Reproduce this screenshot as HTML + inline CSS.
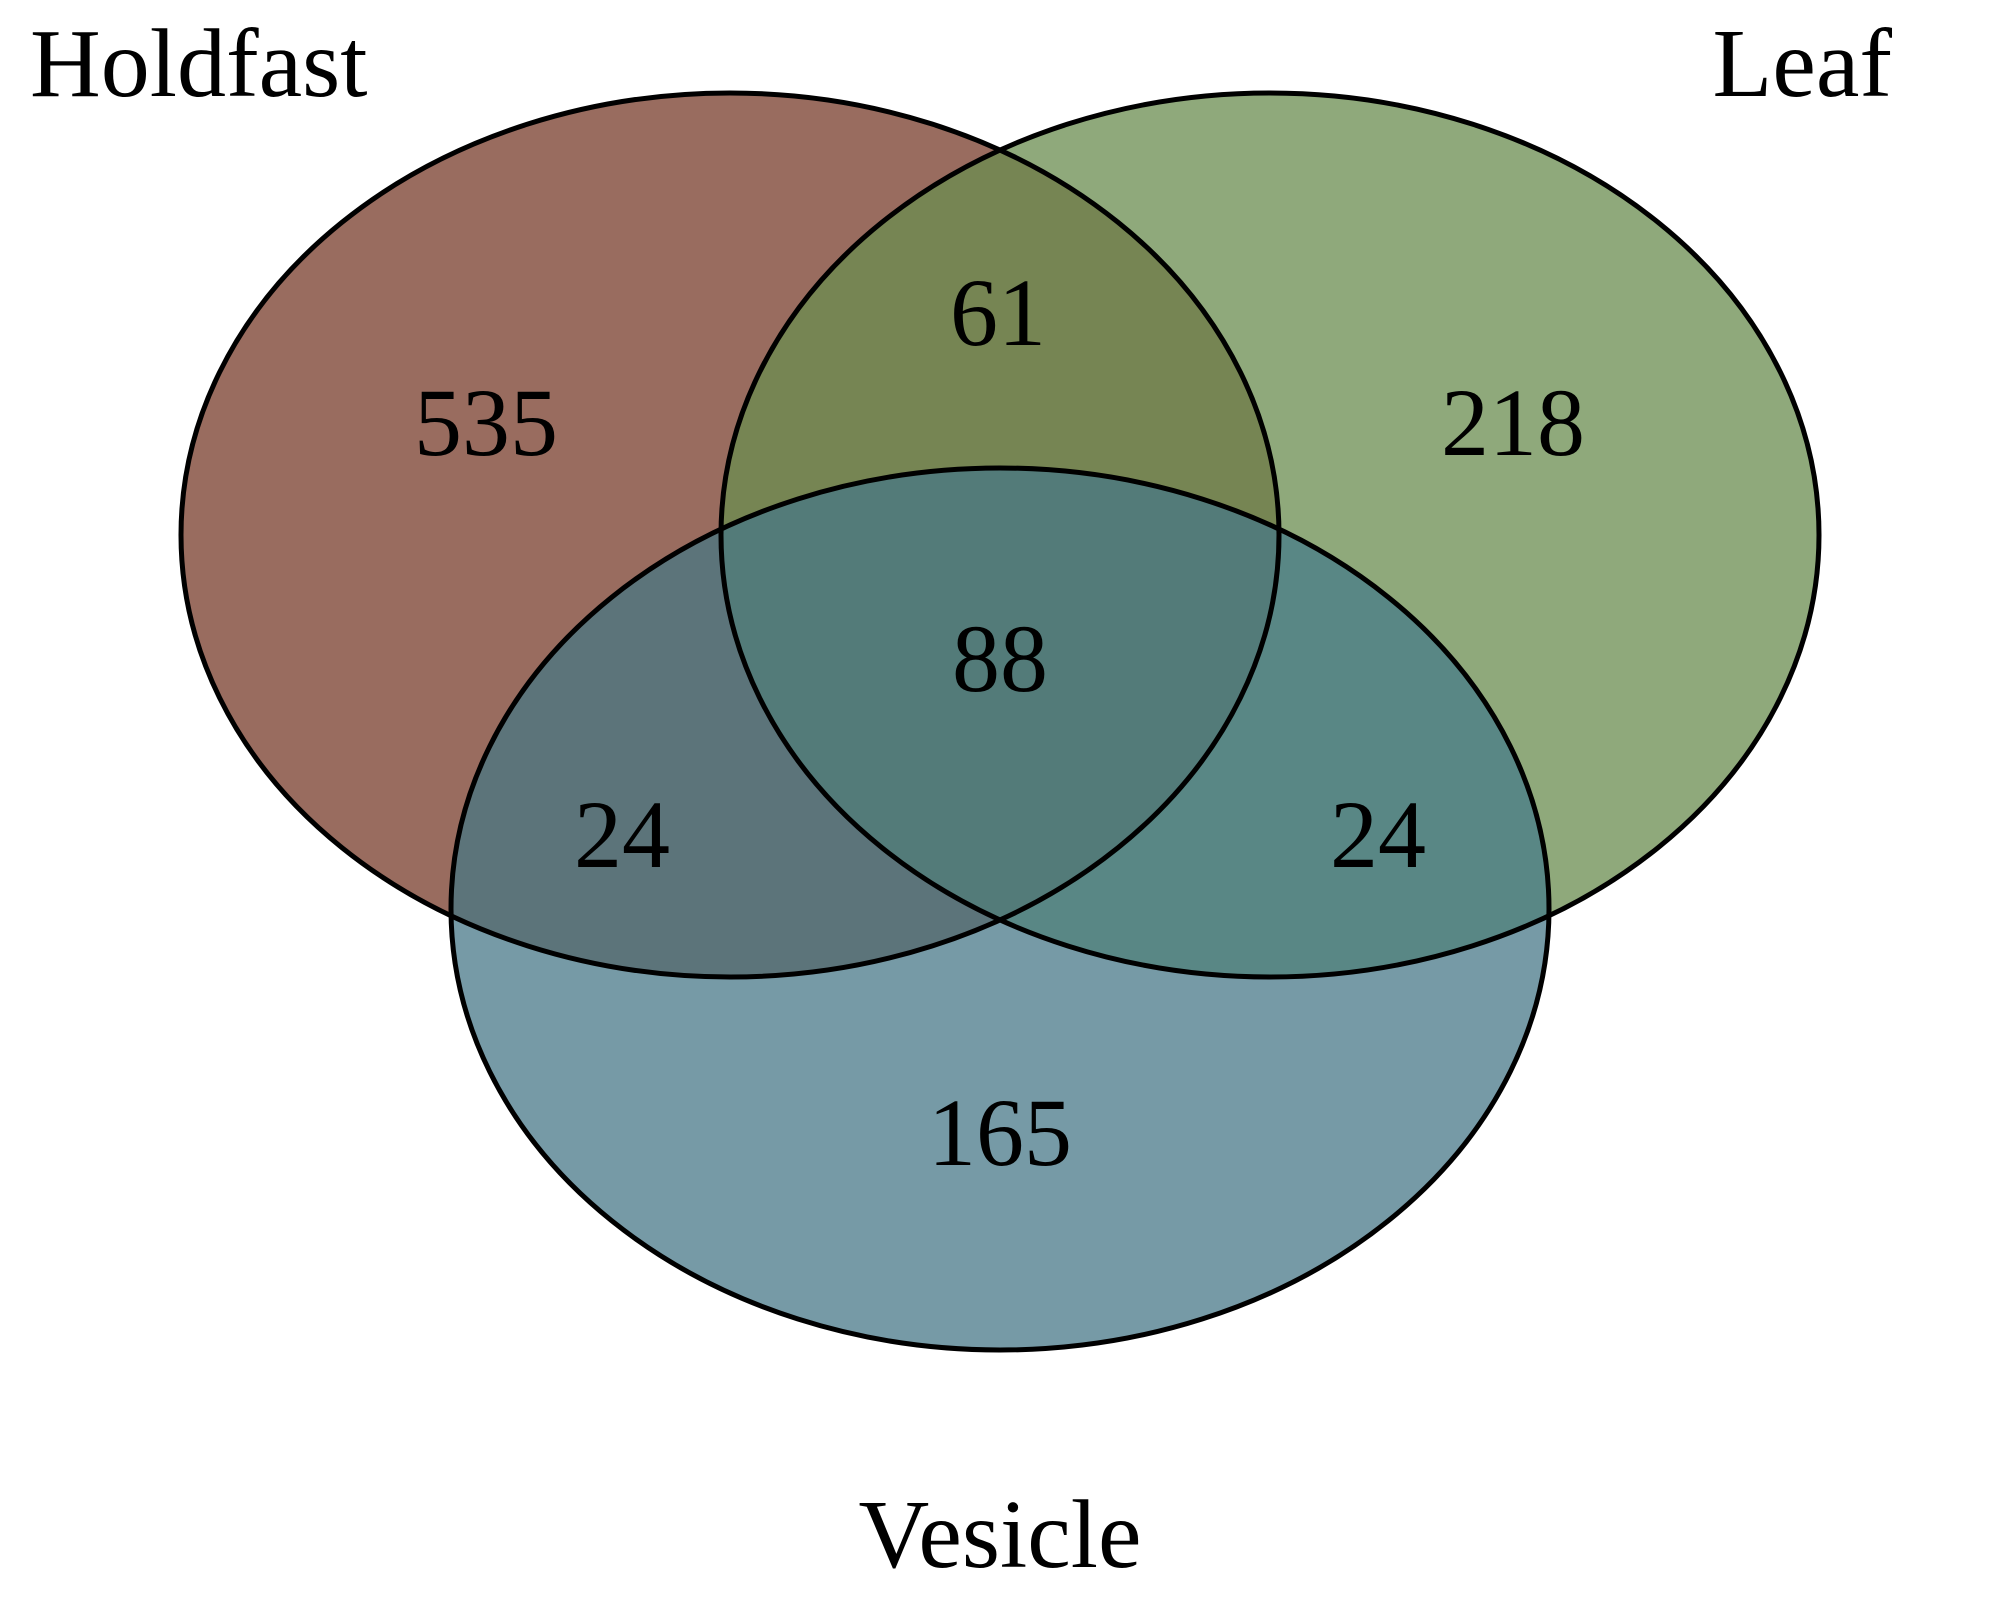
<!DOCTYPE html>
<html><head><meta charset="utf-8"><style>
html,body{margin:0;padding:0;background:#fff;}
svg{display:block;}
text{font-family:"Liberation Serif",serif;fill:#000;}
</style></head><body>
<svg id="chart" width="2000" height="1600" viewBox="0 0 2000 1600">
<defs>
<clipPath id="clipH"><ellipse cx="730" cy="535" rx="549" ry="442"/></clipPath>
<clipPath id="clipL"><ellipse cx="1270" cy="535" rx="549" ry="442"/></clipPath>
<clipPath id="clipV"><ellipse cx="1000" cy="909" rx="549" ry="441"/></clipPath>
</defs>
<g id="fills"></g>
<g id="strokes"></g>
<g id="labels"></g>
</svg>
<script>
const setNames = ['Holdfast','Leaf','Vesicle'];
const regionLabels = ['535','218','165','61','24','24','88'];
const regionKeys = ['H','L','V','HL','HV','LV','HLV'];

const NS='http://www.w3.org/2000/svg';
const geom={H:{cx:730,cy:535,rx:549,ry:442},L:{cx:1270,cy:535,rx:549,ry:442},V:{cx:1000,cy:909,rx:549,ry:441}};
const colors={H:'#996c5f',L:'#8fa97b',V:'#769aa6',HL:'#768553',HV:'#5c747a',LV:'#598785',HLV:'#537b79'};
const fills=document.getElementById('fills');
function ell(k,parent,fill,stroke){const g=geom[k];const e=document.createElementNS(NS,'ellipse');
e.setAttribute('cx',g.cx);e.setAttribute('cy',g.cy);e.setAttribute('rx',g.rx);e.setAttribute('ry',g.ry);
e.setAttribute('fill',fill);if(stroke){e.setAttribute('stroke','#000');e.setAttribute('stroke-width','5');}
parent.appendChild(e);return e;}
['H','L','V'].forEach((k,i)=>{const e=ell(k,fills,colors[k]);

});
function clipped(k,clips,col,name){let parent=fills;clips.forEach(c=>{const g=document.createElementNS(NS,'g');g.setAttribute('clip-path','url(#clip'+c+')');parent.appendChild(g);parent=g;});
const e=ell(k,parent,col);

}
clipped('L',['H'],colors.HL,'holdfast-leaf-overlap');
clipped('V',['H'],colors.HV,'holdfast-vesicle-overlap');
clipped('V',['L'],colors.LV,'leaf-vesicle-overlap');
clipped('V',['H','L'],colors.HLV,'triple-overlap');
const strokes=document.getElementById('strokes');
['H','L','V'].forEach((k,i)=>{const e=ell(k,strokes,'none',true);

});
const labels=document.getElementById('labels');
const pos={H:[486,455],L:[1513,455],V:[1000,1165],HL:[998,345],HV:[622,867],LV:[1378,867],HLV:[1000,691]};
regionKeys.forEach((k,i)=>{const t=document.createElementNS(NS,'text');
t.setAttribute('x',pos[k][0]);t.setAttribute('y',pos[k][1]);t.setAttribute('text-anchor','middle');t.setAttribute('font-size','96');
t.textContent=regionLabels[i];


labels.appendChild(t);});
const tpos=[[30,96,'start'],[1892,96,'end'],[1000,1567,'middle']];
setNames.forEach((n,i)=>{const t=document.createElementNS(NS,'text');
t.setAttribute('x',tpos[i][0]);t.setAttribute('y',tpos[i][1]);t.setAttribute('text-anchor',tpos[i][2]);t.setAttribute('font-size','98');
t.textContent=n;


labels.appendChild(t);});
</script>
</body></html>
